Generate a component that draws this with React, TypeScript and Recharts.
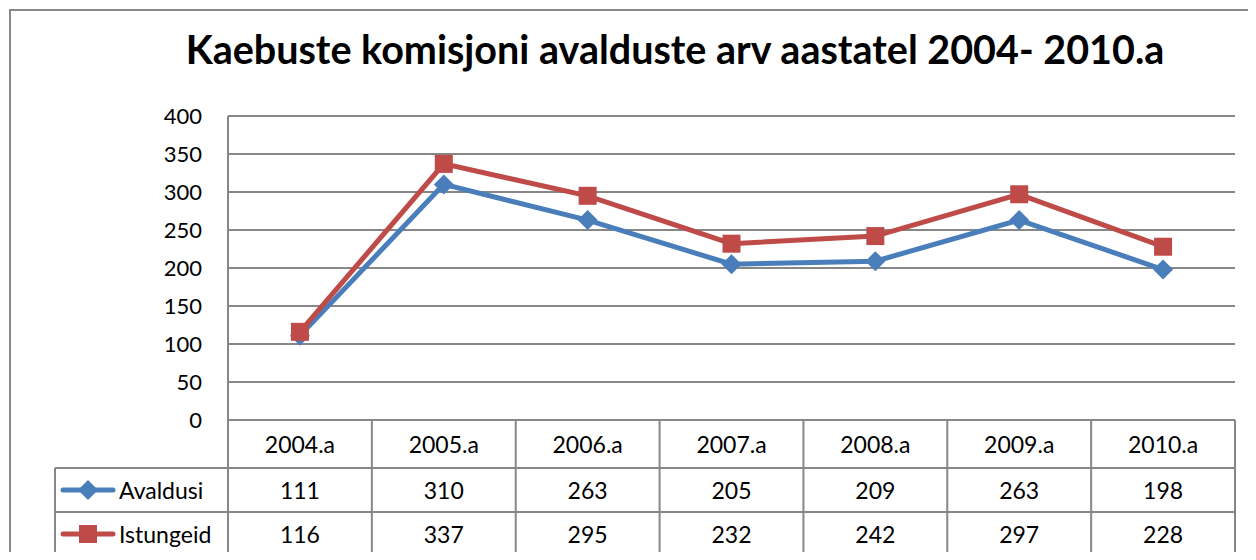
import React from 'react';
import { LineChart, Line, XAxis, YAxis, CartesianGrid } from 'recharts';

const categories = ['2004.a', '2005.a', '2006.a', '2007.a', '2008.a', '2009.a', '2010.a'];
const avaldusi = [111, 310, 263, 205, 209, 263, 198];
const istungeid = [116, 337, 295, 232, 242, 297, 228];
const yTicks = [0, 50, 100, 150, 200, 250, 300, 350, 400];

const seriesList = [
  { key: 'avaldusi', name: 'Avaldusi', values: avaldusi, color: '#4A7EBB', marker: 'diamond' },
  { key: 'istungeid', name: 'Istungeid', values: istungeid, color: '#BE4B48', marker: 'square' },
];

const data = categories.map((c, i) => ({
  name: c,
  avaldusi: avaldusi[i],
  istungeid: istungeid[i],
}));

const FONT = 'Lato, "Open Sans", sans-serif';
const GRID = '#878787';

const W = 1256;
const H = 560;
const PLOT_LEFT = 228;
const PLOT_RIGHT = 1235;
const PLOT_TOP = 116;
const PLOT_BOTTOM = 420;
const ROW_H = 44;
const HEADER_H = 48;
const LEGEND_LEFT = 55;
const colW = (PLOT_RIGHT - PLOT_LEFT) / categories.length;

const Diamond = (props: any) => {
  const { cx, cy, fill } = props;
  if (cx == null || cy == null) return null;
  const r = 10;
  return <path d={`M${cx},${cy - r}L${cx + r},${cy}L${cx},${cy + r}L${cx - r},${cy}Z`} fill={fill} />;
};

const Square = (props: any) => {
  const { cx, cy, fill } = props;
  if (cx == null || cy == null) return null;
  const r = 9;
  return <rect x={cx - r} y={cy - r} width={r * 2} height={r * 2} fill={fill} />;
};

const LegendKey = ({ color, marker }: { color: string; marker: string }) => (
  <svg width={58} height={24} style={{ display: 'block' }}>
    <line x1={4} y1={12} x2={54} y2={12} stroke={color} strokeWidth={5} strokeLinecap="round" />
    {marker === 'diamond' ? (
      <path d="M29,2L39,12L29,22L19,12Z" fill={color} />
    ) : (
      <rect x={20} y={3} width={18} height={18} fill={color} />
    )}
  </svg>
);

const cellText: React.CSSProperties = {
  position: 'absolute',
  display: 'flex',
  alignItems: 'center',
  justifyContent: 'center',
  fontFamily: FONT,
  fontSize: 23,
  color: '#000',
};

const App: React.FC = () => {
  const tableBottom = PLOT_BOTTOM + HEADER_H + ROW_H * seriesList.length;
  return (
    <div style={{ position: 'relative', width: W, height: H, margin: -8, overflow: 'hidden', background: '#fff' }}>
      {/* outer chart border */}
      <div
        style={{
          position: 'absolute',
          left: 9,
          top: 9,
          width: W + 20,
          height: H + 20,
          border: `2px solid ${GRID}`,
        }}
      />
      <div
        style={{
          position: 'absolute',
          left: 0,
          width: 1350,
          top: 25,
          textAlign: 'center',
          fontFamily: FONT,
          fontWeight: 700,
          fontSize: 39.5,
          color: '#000',
        }}
      >
        Kaebuste komisjoni avalduste arv aastatel 2004- 2010.a
      </div>

      <div style={{ position: 'absolute', left: 0, top: 0 }}>
        <LineChart
          width={W}
          height={H}
          data={data}
          margin={{ top: PLOT_TOP, left: PLOT_LEFT - 80, right: W - PLOT_RIGHT, bottom: H - PLOT_BOTTOM }}
        >
          <CartesianGrid vertical={false} stroke={GRID} strokeWidth={2} />
          <XAxis dataKey="name" hide padding={{ left: colW / 2, right: colW / 2 }} />
          <YAxis
            width={80}
            domain={[0, 400]}
            ticks={yTicks}
            interval={0}
            tickSize={0}
            tickMargin={26}
            axisLine={{ stroke: GRID, strokeWidth: 2 }}
            tickLine={false}
            tick={{ fill: '#000', fontSize: 22, fontFamily: FONT }}
          />
          {seriesList.map((s) => (
            <Line
              key={s.key}
              dataKey={s.key}
              name={s.name}
              stroke={s.color}
              strokeWidth={5}
              isAnimationActive={false}
              dot={s.marker === 'diamond' ? <Diamond fill={s.color} /> : <Square fill={s.color} />}
              activeDot={false}
            />
          ))}
        </LineChart>
      </div>

      {/* data table */}
      <svg style={{ position: 'absolute', left: 0, top: 0 }} width={W} height={H}>
        <g stroke={GRID} strokeWidth={2} fill="none">
          <line x1={PLOT_LEFT} y1={PLOT_BOTTOM} x2={PLOT_RIGHT} y2={PLOT_BOTTOM} />
          <line x1={PLOT_LEFT} y1={PLOT_BOTTOM + HEADER_H} x2={PLOT_RIGHT} y2={PLOT_BOTTOM + HEADER_H} />
          <line x1={LEGEND_LEFT} y1={PLOT_BOTTOM + HEADER_H} x2={PLOT_LEFT} y2={PLOT_BOTTOM + HEADER_H} />
          {seriesList.map((s, i) => (
            <line
              key={s.key}
              x1={LEGEND_LEFT}
              y1={PLOT_BOTTOM + HEADER_H + ROW_H * (i + 1)}
              x2={PLOT_RIGHT}
              y2={PLOT_BOTTOM + HEADER_H + ROW_H * (i + 1)}
            />
          ))}
          <line x1={LEGEND_LEFT} y1={PLOT_BOTTOM + HEADER_H} x2={LEGEND_LEFT} y2={tableBottom} />
          {categories.map((c, i) => (
            <line key={c} x1={PLOT_LEFT + colW * i} y1={PLOT_BOTTOM} x2={PLOT_LEFT + colW * i} y2={tableBottom} />
          ))}
          <line x1={PLOT_RIGHT} y1={PLOT_BOTTOM} x2={PLOT_RIGHT} y2={tableBottom} />
        </g>
      </svg>

      {categories.map((c, i) => (
        <div
          key={c}
          style={{ ...cellText, left: PLOT_LEFT + colW * i, top: PLOT_BOTTOM, width: colW, height: HEADER_H }}
        >
          {c}
        </div>
      ))}

      {seriesList.map((s, r) => (
        <React.Fragment key={s.key}>
          <div
            style={{
              ...cellText,
              justifyContent: 'flex-start',
              left: LEGEND_LEFT + 4,
              top: PLOT_BOTTOM + HEADER_H + ROW_H * r,
              width: PLOT_LEFT - LEGEND_LEFT - 4,
              height: ROW_H,
            }}
          >
            <LegendKey color={s.color} marker={s.marker} />
            <span style={{ marginLeft: 2 }}>{s.name}</span>
          </div>
          {s.values.map((v, i) => (
            <div
              key={i}
              style={{
                ...cellText,
                left: PLOT_LEFT + colW * i,
                top: PLOT_BOTTOM + HEADER_H + ROW_H * r,
                width: colW,
                height: ROW_H,
              }}
            >
              {v}
            </div>
          ))}
        </React.Fragment>
      ))}
    </div>
  );
};

export default App;
